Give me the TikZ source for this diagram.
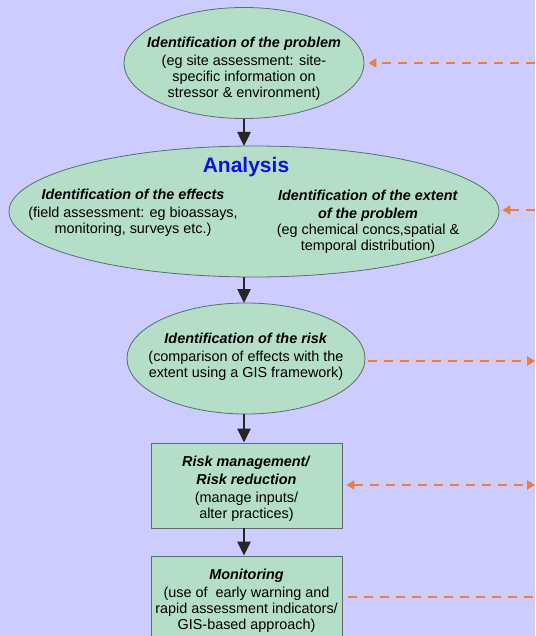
\documentclass[tikz,border=0pt]{standalone}
\usepackage{fontspec}
\setmainfont{Liberation Sans}
\usetikzlibrary{shapes.geometric,arrows.meta}
\definecolor{bgcol}{RGB}{204,204,255}
\definecolor{fillcol}{RGB}{180,222,200}
\definecolor{bordercol}{RGB}{90,110,110}
\definecolor{orangecol}{RGB}{236,125,60}
\definecolor{bluecol}{RGB}{16,16,230}
\newcommand{\bi}[1]{\textbf{\textit{#1}}}
\begin{document}
\begin{tikzpicture}[x=1pt,y=-1pt,
  shapebox/.style={draw=bordercol, fill=fillcol, line width=0.8pt, inner sep=0pt},
  ell/.style={shapebox, ellipse},
  rbox/.style={shapebox, rectangle},
  txt/.style={align=center, inner sep=0pt, font=\fontsize{14.4}{16}\selectfont},
  flow/.style={line width=2.5pt, black!85, -{Triangle[length=14pt,width=13pt]}},
  odash/.style={line width=2.7pt, orangecol, dash pattern=on 9pt off 7pt},
  otip/.style={-{Triangle[length=8pt,width=9pt]}},
]
\useasboundingbox (0,0) rectangle (535,636);
\clip (0,0) rectangle (535,636);
\fill[bgcol] (0,0) rectangle (535,636);

% problem
\node[ell, minimum width=240pt, minimum height=111pt] (P) at (244,63) {};
\node[txt] (Pt) at (244,68.5) {\bi{Identification of the problem}\\[2pt]
  (eg site assessment: site-\\ specific information on\\ stressor \& environment)};

% analysis
\node[ell, minimum width=490pt, minimum height=131pt] (A) at (254,211.5) {};
\node[font=\fontsize{21}{24}\selectfont\bfseries, text=bluecol, inner sep=0pt] (At) at (246,167) {Analysis};
\node[txt] (Al) at (133,213) {\bi{Identification of the effects}\\[2pt]
  (field assessment: eg bioassays,\\ monitoring, surveys etc.)};
\node[txt] (Ar) at (368,222) {\bi{Identification of the extent}\\[2pt]
  \bi{of the problem}\\ (eg chemical concs,spatial \&\\ temporal distribution)};

% risk
\node[ell, minimum width=238pt, minimum height=111pt] (R) at (246,358.5) {};
\node[txt] (Rt) at (246,357) {\bi{Identification of the risk}\\[2pt]
  (comparison of effects with the\\ extent using a GIS framework)};

% management
\node[rbox, minimum width=191pt, minimum height=85pt] (M) at (246.5,485.5) {};
\node[txt] (Mt) at (246.5,489) {\bi{Risk management/}\\[2pt] \bi{Risk reduction}\\[2pt]
  (manage inputs/\\ alter practices)};

% monitoring
\node[rbox, minimum width=191pt, minimum height=100pt] (Mo) at (246.5,606) {};
\node[txt] (Mot) at (246.5,601) {\bi{Monitoring}\\[2pt]
  (use of~ early warning and\\ rapid assessment indicators/\\ GIS-based approach)};

% flow arrows
\draw[flow] (P.south -| 244,0) -- (244,146);
\draw[flow] (244,277) -- (244,303);
\draw[flow] (244,414) -- (M.north -| 244,0);
\draw[flow] (M.south -| 244,0) -- (Mo.north -| 244,0);

% orange connectors
\coordinate (e1) at (535,63);
\coordinate (e2) at (535,210);
\coordinate (e3) at (535,361);
\coordinate (e4) at (535,485);
\coordinate (e5) at (535,597);
\draw[odash, otip, shorten >=4pt] (e1) -- (P.east |- e1);
\draw[odash, otip, shorten >=3pt] (e2) -- (A.east |- e2);
\draw[odash, otip, shorten <=3pt] (R.east |- e3) -- (e3);
\draw[odash, {Triangle[length=8pt,width=9pt]}-{Triangle[length=8pt,width=9pt]}, shorten <=4pt] (M.east |- e4) -- (e4);
\draw[odash, shorten <=6pt] (Mo.east |- e5) -- (e5);
\end{tikzpicture}
\end{document}
